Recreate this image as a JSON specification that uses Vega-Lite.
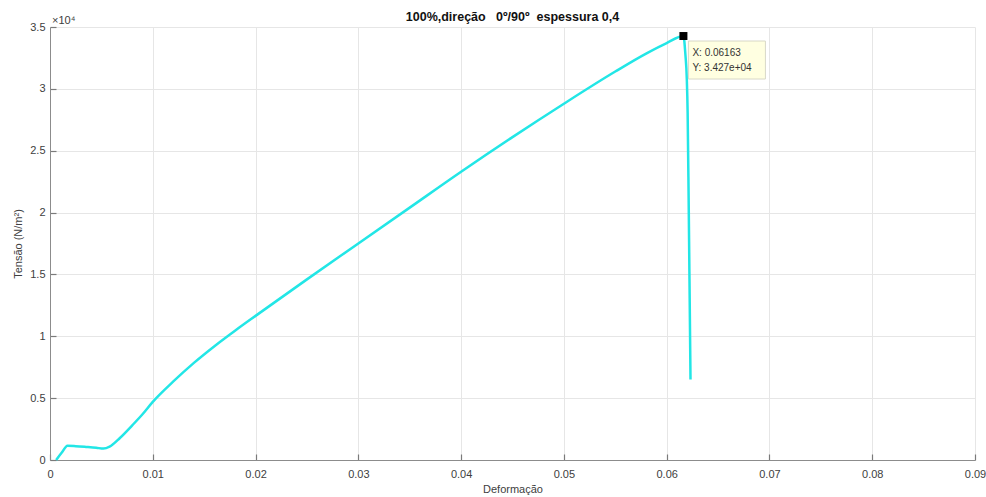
{
  "$schema": "https://vega.github.io/schema/vega-lite/v6.json",
  "width": 925,
  "height": 433,
  "autosize": {"type": "none"},
  "padding": {"left": 50, "top": 27, "right": 11, "bottom": 37},
  "background": "white",
  "config": {
    "font": "Liberation Sans",
    "view": {"stroke": null},
    "axis": {
      "domainColor": "#8c8c8c",
      "domainWidth": 1,
      "tickColor": "#7a7a7a",
      "tickSize": -6,
      "tickWidth": 1.2,
      "gridColor": "#e6e6e6",
      "gridWidth": 1,
      "labelFont": "Liberation Sans",
      "labelFontSize": 11,
      "labelColor": "#404040",
      "labelFlush": false,
      "labelOverlap": false,
      "titleFont": "Liberation Sans",
      "titleFontSize": 11,
      "titleFontWeight": "normal",
      "titleColor": "#404040"
    }
  },
  "title": {
    "text": "100%,direção\u00a0\u00a0\u00a00º/90º\u00a0\u00a0espessura 0,4",
    "fontSize": 12.5,
    "fontWeight": "bold",
    "color": "#111111",
    "font": "Liberation Sans",
    "anchor": "middle",
    "offset": -8
  },
  "datasets": {
    "curve": [
      {"x": 0.0006, "y": 0},
      {"x": 0.00115, "y": 600},
      {"x": 0.0017, "y": 1150},
      {"x": 0.0025, "y": 1120},
      {"x": 0.0035, "y": 1060},
      {"x": 0.0045, "y": 990},
      {"x": 0.0052, "y": 920},
      {"x": 0.0058, "y": 1080},
      {"x": 0.0068, "y": 1780},
      {"x": 0.008, "y": 2800},
      {"x": 0.009, "y": 3700},
      {"x": 0.01, "y": 4700},
      {"x": 0.012, "y": 6350},
      {"x": 0.014, "y": 7850},
      {"x": 0.016, "y": 9200},
      {"x": 0.018, "y": 10450},
      {"x": 0.02, "y": 11650},
      {"x": 0.025, "y": 14600},
      {"x": 0.03, "y": 17500},
      {"x": 0.035, "y": 20400},
      {"x": 0.04, "y": 23300},
      {"x": 0.045, "y": 26100},
      {"x": 0.05, "y": 28800},
      {"x": 0.055, "y": 31400},
      {"x": 0.058, "y": 32850},
      {"x": 0.06, "y": 33700},
      {"x": 0.06163, "y": 34270},
      {"x": 0.06182, "y": 32800},
      {"x": 0.06196, "y": 30800},
      {"x": 0.06204, "y": 28100},
      {"x": 0.06214, "y": 21000},
      {"x": 0.06224, "y": 13000},
      {"x": 0.06232, "y": 6500}
    ],
    "peak": [{"x": 0.06163, "y": 34270}],
    "exp": [{"x": 0, "y": 35000, "t": "×10⁴"}]
  },
  "layer": [
    {
      "data": {"name": "curve"},
      "mark": {"type": "line", "color": "#22e6e6", "strokeWidth": 2.5, "interpolate": "monotone"},
      "encoding": {
        "x": {
          "field": "x",
          "type": "quantitative",
          "scale": {"domain": [0, 0.09], "nice": false, "zero": false},
          "axis": {
            "values": [0, 0.01, 0.02, 0.03, 0.04, 0.05, 0.06, 0.07, 0.08, 0.09],
            "labelExpr": "datum.value == 0 ? '0' : format(datum.value, '.2f')",
            "grid": true,
            "title": "Deformação",
            "labelPadding": 14,
            "titlePadding": 4
          }
        },
        "y": {
          "field": "y",
          "type": "quantitative",
          "scale": {"domain": [0, 35000], "nice": false},
          "axis": {
            "values": [0, 5000, 10000, 15000, 20000, 25000, 30000, 35000],
            "labelExpr": "format(datum.value / 10000, '~g')",
            "grid": true,
            "title": "Tensão (N/m²)",
            "labelPadding": 11,
            "titlePadding": 6
          }
        }
      }
    },
    {
      "data": {"name": "exp"},
      "mark": {"type": "text", "align": "left", "baseline": "bottom", "dx": 2, "dy": -1, "fontSize": 11, "color": "#404040", "font": "Liberation Sans"},
      "encoding": {
        "x": {"field": "x", "type": "quantitative"},
        "y": {"field": "y", "type": "quantitative"},
        "text": {"field": "t"}
      }
    },
    {
      "data": {"name": "peak"},
      "mark": {"type": "rect", "fill": "#ffffe1", "stroke": "#d8d8c8", "strokeWidth": 1, "xOffset": 5, "x2Offset": 82, "yOffset": 5, "y2Offset": 43},
      "encoding": {
        "x": {"field": "x", "type": "quantitative"},
        "x2": {"field": "x"},
        "y": {"field": "y", "type": "quantitative"},
        "y2": {"field": "y"}
      }
    },
    {
      "data": {"name": "peak"},
      "mark": {"type": "square", "filled": true, "color": "#000000", "size": 64, "opacity": 1},
      "encoding": {
        "x": {"field": "x", "type": "quantitative"},
        "y": {"field": "y", "type": "quantitative"}
      }
    },
    {
      "data": {"name": "peak"},
      "mark": {"type": "text", "align": "left", "baseline": "top", "dx": 9, "dy": 12, "fontSize": 10, "lineHeight": 15, "color": "#333333", "font": "Liberation Sans"},
      "encoding": {
        "x": {"field": "x", "type": "quantitative"},
        "y": {"field": "y", "type": "quantitative"},
        "text": {"value": ["X: 0.06163", "Y: 3.427e+04"]}
      }
    }
  ]
}
